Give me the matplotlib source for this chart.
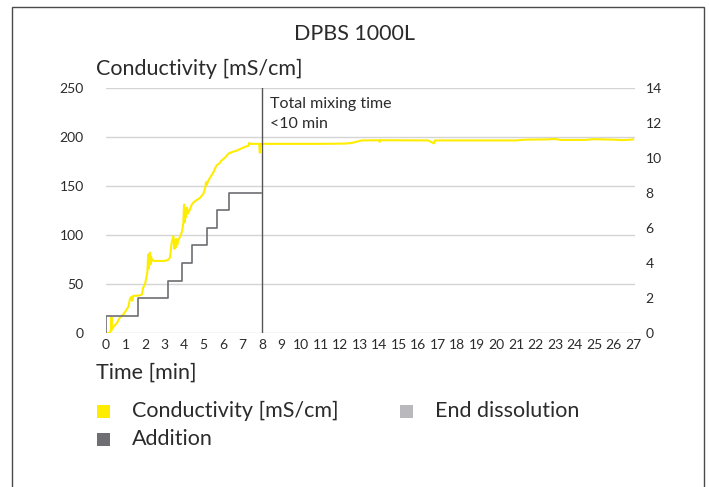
import matplotlib
matplotlib.use("Agg")
import matplotlib.pyplot as plt
from matplotlib.patches import Rectangle

plt.rcParams["font.family"] = ["Lato", "DejaVu Sans"]

# conductivity [mS/cm] vs time [min]
cond_t = [0.0, 0.15, 0.25, 0.28, 0.30, 0.37, 0.55, 0.72, 0.89, 1.06, 1.15,
          1.23, 1.31, 1.35, 1.40, 1.49, 1.6, 1.83, 1.9, 2.0, 2.08, 2.12, 2.16, 2.19,
          2.22, 2.25, 2.28, 2.31, 2.33, 2.36, 2.4, 2.43, 2.47, 2.51, 2.6, 2.77, 2.95,
          3.11, 3.2, 3.28, 3.36, 3.45, 3.5, 3.53, 3.56, 3.6, 3.65, 3.7, 3.79, 3.85,
          3.9, 3.96, 4.0, 4.03, 4.06, 4.1, 4.15, 4.2, 4.3, 4.39, 4.47, 4.6, 4.82, 4.9,
          4.99, 5.05, 5.1, 5.12, 5.16, 5.25, 5.41, 5.5, 5.66, 5.8, 5.92, 6.1, 6.27,
          6.5, 6.69, 6.9, 7.2, 7.3, 7.34, 7.38, 7.6, 7.85, 7.88, 7.91, 8.0, 9.5, 11.0,
          12.3, 12.6, 12.9, 13.1, 14.0, 14.02, 14.05, 16.5, 16.8, 16.85, 17.0, 21.0,
          21.5, 22.5, 23.0, 23.3, 24.5, 25.0, 26.0, 26.5, 27.0]
cond_v = [0, 0, 2, 16, 3, 6, 10, 16, 19, 24, 27,
          35, 37, 33, 38, 38, 38, 39, 46, 50, 58, 62, 80, 66,
          76, 82, 70, 78, 73.5, 75, 74, 74, 73.5, 73.5, 73.5, 73.5, 73.5,
          74, 75, 77, 92, 99, 86, 95, 87, 96, 90, 95, 98, 101,
          104, 112, 131, 113, 127, 118, 128, 122, 126, 131, 133, 135, 138, 140,
          142, 146, 150, 154, 151, 156, 161, 164, 171, 173, 176, 179, 183,
          185, 186, 188, 190.5, 191, 194, 193, 193, 193, 184, 193, 193, 193, 193,
          193.3, 194, 195.5, 196.5, 196.7, 195, 196.7, 196.5, 193.5, 196.5, 196.5, 196.5,
          197.3, 197.5, 198, 197, 197, 197.8, 197.3, 196.8, 197.5]

# addition steps (right axis)
add_t = [0, 0, 1.65, 3.19, 3.88, 4.39, 5.16, 5.67, 6.32, 7.95]
add_v = [0, 1, 2, 3, 4, 5, 6, 7, 8, 8]

left_ticks = [0, 50, 100, 150, 200, 250]
right_ticks = [0, 2, 4, 6, 8, 10, 12, 14]
x_ticks = list(range(0, 28))

yellow = "#ffed00"
dark = "#6e6e73"
light = "#b9b9bd"
txt = "#2b2b2b"

W, H = 709, 487
fig = plt.figure(figsize=(W / 100, H / 100), dpi=100)
ax = fig.add_axes([106 / W, 1 - 333 / H, (635 - 106) / W, (333 - 88) / H])
ax2 = ax.twinx()

ax.set_xlim(0, 27.1)
ax.set_ylim(0, 250)
ax2.set_ylim(0, 14)
for a in (ax, ax2):
    for s in a.spines.values():
        s.set_visible(False)

ax.set_yticks(left_ticks)
ax.set_xticks(x_ticks)
ax2.set_yticks(right_ticks)
ax.grid(axis="y", color="#d4d4d4", lw=1)
ax.set_axisbelow(True)
ax.tick_params(axis="y", length=0, pad=16, labelsize=10, labelcolor=txt)
ax.tick_params(axis="x", length=0, pad=4, labelsize=10, labelcolor=txt)
ax2.tick_params(axis="y", length=0, pad=7.5, labelsize=10, labelcolor=txt)

ax.plot(cond_t, cond_v, color=yellow, lw=1.5, zorder=3)
ax2.plot(add_t, add_v, color=dark, lw=1.2, drawstyle="steps-post", zorder=2)
ax.axvline(8, color="#555555", lw=1, zorder=4)

ax.text(8.4, 233.5, "Total mixing time", fontsize=11.5, color=txt,
        va="center", ha="left")
ax.text(8.4, 213, "<10 min", fontsize=11.5, color=txt,
        va="center", ha="left")

fig.text(354 / W, 1 - 34 / H, "DPBS 1000L", ha="center", va="center",
         fontsize=15.5, color=txt)
fig.text(96 / W, 1 - 69 / H, "Conductivity [mS/cm]", ha="left", va="center",
         fontsize=15.5, color=txt)
fig.text(96 / W, 1 - 373 / H, "Time [min]", ha="left", va="center",
         fontsize=15.5, color=txt)

# legend
legend = [("Conductivity [mS/cm]", yellow, 97, 411),
          ("End dissolution", light, 400, 411),
          ("Addition", dark, 97, 439)]
for label, col, x0, y0 in legend:
    fig.add_artist(Rectangle((x0 / W, 1 - (y0 + 7) / H), 13 / W, 13 / H,
                             transform=fig.transFigure, color=col, lw=0))
    fig.text((x0 + 35) / W, 1 - y0 / H, label, ha="left", va="center",
             fontsize=15.5, color=txt)

# frame
fig.add_artist(Rectangle((12 / W, -0.05), (704 - 12) / W, 1 - 7 / H + 0.05,
                         transform=fig.transFigure, fill=False,
                         edgecolor="#4a4a4a", lw=1))

fig.savefig("out.png", dpi=100)
